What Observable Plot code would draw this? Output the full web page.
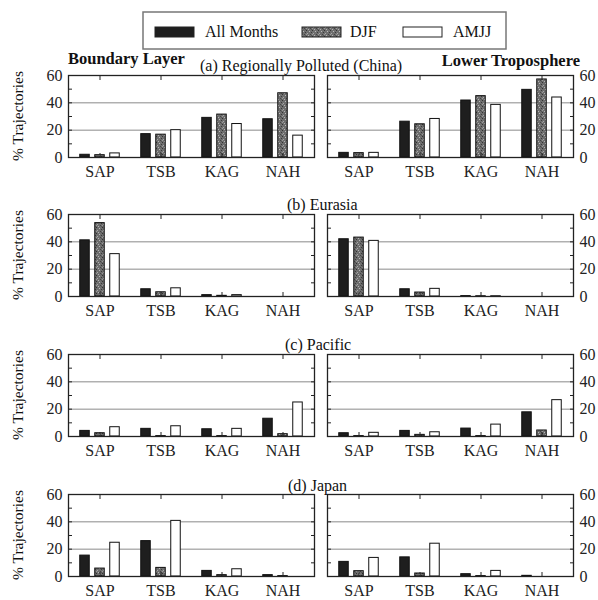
<!DOCTYPE html>
<html><head><meta charset="utf-8">
<script src="https://cdn.jsdelivr.net/npm/d3@7"></script>
<script src="https://cdn.jsdelivr.net/npm/@observablehq/plot@0.6"></script>
<style>
body{margin:0;background:#fff;}
#chart{position:relative;width:598px;height:600px;overflow:hidden;background:#fff;font-family:'Liberation Serif',serif;color:#111}
#chart svg.panel{position:absolute;overflow:visible}
#chart svg text{font-family:'Liberation Serif',serif}
#overlay{position:absolute;left:0;top:0}
</style></head><body>
<svg width="0" height="0" style="position:absolute">
  <defs>
    <pattern id="djf" width="6" height="6" patternUnits="userSpaceOnUse">
      <rect width="6" height="6" fill="#6e6e6e"/>
      <rect x="0" y="0" width="1" height="1" fill="#333"/>
      <rect x="3" y="1" width="1" height="1" fill="#bbb"/>
      <rect x="5" y="2" width="1" height="1" fill="#3a3a3a"/>
      <rect x="1" y="3" width="1" height="1" fill="#a8a8a8"/>
      <rect x="4" y="4" width="1" height="1" fill="#444"/>
      <rect x="2" y="5" width="1" height="1" fill="#b4b4b4"/>
      <rect x="0" y="4" width="1" height="1" fill="#999"/>
      <rect x="5" y="5" width="1" height="1" fill="#555"/>
    </pattern>
  </defs>
</svg>
<div id="chart"></div>
<script>
// ---- data ----
const categories = ["SAP", "TSB", "KAG", "NAH"];
const series = ["All Months", "DJF", "AMJJ"];
const regionTitles = ["(a) Regionally Polluted (China)", "(b) Eurasia", "(c) Pacific", "(d) Japan"];
const layerTitles = ["Boundary Layer", "Lower Troposphere"];
const yTickValues = [0, 20, 40, 60];
const yMinorTicks = [0, 10, 20, 30, 40, 50, 60];
const gridValues = [20, 40];

// (a) Regionally Polluted (China)
const chinaBL_all  = [2.0, 17.1, 29.0, 28.0];
const chinaBL_djf  = [1.7, 16.7, 31.4, 47.0];
const chinaBL_amjj = [3.0, 20.0, 24.5, 16.0];
const chinaLT_all  = [3.4, 26.2, 41.7, 49.5];
const chinaLT_djf  = [3.2, 24.3, 44.9, 57.1];
const chinaLT_amjj = [3.4, 28.2, 38.5, 43.9];
// (b) Eurasia
const eurasiaBL_all  = [41.1, 5.3, 1.0, 0];
const eurasiaBL_djf  = [53.7, 3.1, 0.5, 0];
const eurasiaBL_amjj = [31.0, 6.0, 1.0, 0];
const eurasiaLT_all  = [41.9, 5.3, 0.3, 0];
const eurasiaLT_djf  = [43.1, 2.9, 0.2, 0];
const eurasiaLT_amjj = [40.7, 5.6, 0.2, 0];
// (c) Pacific
const pacificBL_all  = [4.1, 5.6, 5.3, 13.0];
const pacificBL_djf  = [2.4, 0.3, 0.3, 1.7];
const pacificBL_amjj = [6.8, 7.5, 5.6, 24.9];
const pacificLT_all  = [2.4, 4.1, 5.8, 17.7];
const pacificLT_djf  = [0.3, 1.2, 0.3, 4.4];
const pacificLT_amjj = [2.7, 3.1, 8.7, 26.6];
// (d) Japan
const japanBL_all  = [15.3, 25.9, 4.1, 1.0];
const japanBL_djf  = [5.8, 6.3, 1.0, 0.3];
const japanBL_amjj = [24.7, 40.7, 5.3, 0];
const japanLT_all  = [10.7, 14.0, 1.7, 0.5];
const japanLT_djf  = [3.9, 2.2, 0.3, 0];
const japanLT_amjj = [13.6, 24.0, 4.1, 0];

const panels = [
  [[chinaBL_all, chinaBL_djf, chinaBL_amjj], [chinaLT_all, chinaLT_djf, chinaLT_amjj]],
  [[eurasiaBL_all, eurasiaBL_djf, eurasiaBL_amjj], [eurasiaLT_all, eurasiaLT_djf, eurasiaLT_amjj]],
  [[pacificBL_all, pacificBL_djf, pacificBL_amjj], [pacificLT_all, pacificLT_djf, pacificLT_amjj]],
  [[japanBL_all, japanBL_djf, japanBL_amjj], [japanLT_all, japanLT_djf, japanLT_amjj]]
];

// ---- styles ----
const FONT = "'Liberation Serif', serif";
const fills = ["#1e1e1e", "url(#djf)", "#ffffff"];
const offsets = [-15, 0, 15];
const panelTops = [75, 214, 354, 494];
const PANEL_H = 82, PANEL_W = 246, MT = 5, MB = 25;

const chart = document.getElementById("chart");

function makePanel(side, seriesValues) {
  const left = side === 0;
  const rows = [];
  series.forEach((s, j) => categories.forEach((c, i) => rows.push({cat: c, series: s, v: seriesValues[j][i]})));
  const mL = left ? 68 : 13, mR = left ? 2 : 25;
  const bw = PANEL_W / categories.length;
  const inset = (bw - 10) / 2;
  return Plot.plot({
    width: mL + PANEL_W + mR,
    height: MT + PANEL_H + MB,
    marginTop: MT, marginBottom: MB, marginLeft: mL, marginRight: mR,
    style: {fontFamily: FONT, fontSize: "16px", color: "#111", background: "transparent", overflow: "visible"},
    x: {type: "band", domain: categories, padding: 0},
    y: {domain: [0, 60]},
    marks: [
      Plot.ruleY(gridValues, {stroke: "#8a8a8a", strokeWidth: 1}),
      ...series.map((s, j) => Plot.barY(rows.filter(r => r.series === s), {
        x: "cat", y: "v", fill: fills[j], stroke: "#111", strokeWidth: 1,
        insetLeft: inset, insetRight: inset, dx: offsets[j]
      })),
      Plot.frame({stroke: "#222", strokeWidth: 1.3}),
      Plot.axisY(yMinorTicks, {anchor: "left", tickSize: -4, tickFormat: () => "", label: null, stroke: "#222"}),
      Plot.axisY(yMinorTicks, {anchor: "right", tickSize: -4, tickFormat: () => "", label: null, stroke: "#222"}),
      Plot.axisY(yTickValues, {anchor: left ? "left" : "right", tickSize: 0, tickPadding: 6, label: null, fontSize: 16, fill: "#222"}),
      Plot.axisX({anchor: "top", tickSize: -4, tickFormat: () => "", label: null, stroke: "#222"}),
      Plot.axisX({anchor: "bottom", tickSize: -4, tickFormat: () => "", label: null, stroke: "#222"}),
      Plot.axisX({anchor: "bottom", tickSize: 0, tickPadding: 8, label: null, fontSize: 16, fill: "#222"})
    ]
  });
}

panels.forEach((pair, r) => {
  pair.forEach((vals, side) => {
    const svg = makePanel(side, vals);
    svg.classList.add("panel");
    svg.style.left = (side === 0 ? 0 : 314) + "px";
    svg.style.top = (panelTops[r] - MT) + "px";
    chart.appendChild(svg);
  });
});

// ---- overlay text & legend ----
const ov = d3.select(chart).append("svg").attr("id", "overlay")
  .attr("width", 598).attr("height", 600)
  .attr("font-family", FONT).style("fill", "#111");

ov.append("text").attr("x", 68).attr("y", 64).attr("font-size", 16.5).attr("font-weight", "bold").text(layerTitles[0]);
ov.append("text").attr("x", 580).attr("y", 66).attr("text-anchor", "end").attr("font-size", 16.5).attr("font-weight", "bold").text(layerTitles[1]);

const titlePos = [[200, 71], [287, 210], [285, 350], [288, 491]];
regionTitles.forEach((t, i) => {
  ov.append("text").attr("x", titlePos[i][0]).attr("y", titlePos[i][1]).attr("font-size", 16).text(t);
});

panelTops.forEach(t => {
  const cy = t + PANEL_H / 2;
  ov.append("text").attr("transform", `translate(23,${cy}) rotate(-90)`)
    .attr("text-anchor", "middle").attr("font-size", 15.5).text("% Trajectories");
});

// legend
ov.append("rect").attr("x", 143).attr("y", 12).attr("width", 363).attr("height", 37)
  .attr("fill", "none").attr("stroke", "#777").attr("stroke-width", 1.5);
const legendX = [[155, 205], [302, 350], [403, 453]];
series.forEach((s, j) => {
  ov.append("rect").attr("x", legendX[j][0]).attr("y", 27).attr("width", 39).attr("height", 10)
    .attr("fill", fills[j]).attr("stroke", "#222").attr("stroke-width", 1);
  ov.append("text").attr("x", legendX[j][1]).attr("y", 37).attr("font-size", 16).text(s);
});
</script>
</body></html>
